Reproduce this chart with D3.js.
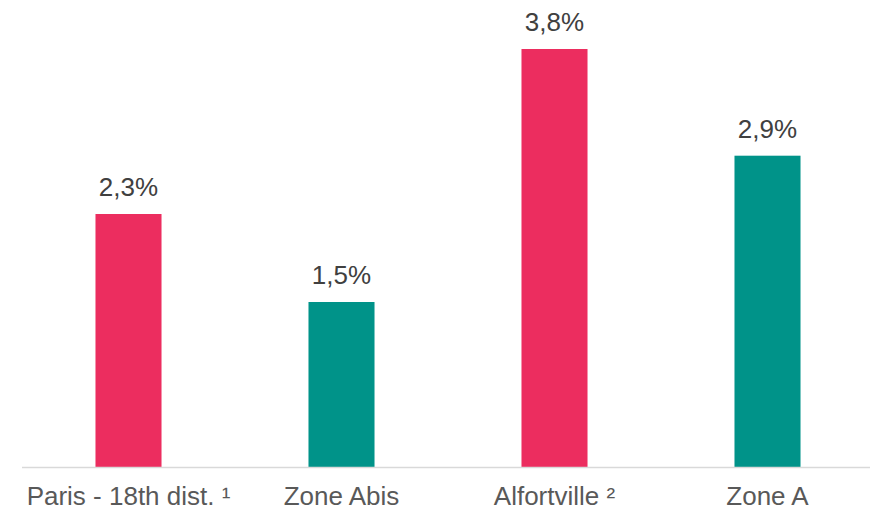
<!DOCTYPE html>
<html>
<head>
<meta charset="utf-8">
<script src="https://cdn.jsdelivr.net/npm/d3@7"></script>
<style>
  body { margin: 0; background: #fff; }
  svg { display: block; font-family: Arial, "Liberation Sans", sans-serif; }
  .value { fill: #404040; font-size: 26px; text-anchor: middle; }
  .cat { fill: #595959; font-size: 26px; text-anchor: middle; }
</style>
</head>
<body>
<svg width="870" height="511"></svg>
<script>
// chart data
var categories = ["Paris - 18th dist. \u00b9", "Zone Abis", "Alfortville \u00b2", "Zone A"];
var values = [2.3, 1.5, 3.8, 2.83];
var valueLabels = ["2,3%", "1,5%", "3,8%", "2,9%"];
var colors = ["#ec2d5f", "#009389", "#ec2d5f", "#009389"];

var svg = d3.select("svg"),
    width = +svg.attr("width"),
    height = +svg.attr("height");

var x = d3.scaleBand()
    .domain(categories)
    .range([22, 874])
    .paddingInner(0.69)
    .paddingOuter(0.345);

var y = d3.scaleLinear()
    .domain([0, 3.8])
    .range([467, 49]);

var data = categories.map(function(c, i) {
    return { cat: c, value: values[i], label: valueLabels[i], color: colors[i] };
});

// bars
svg.selectAll(".bar")
    .data(data)
    .enter()
    .append("rect")
      .attr("class", "bar")
      .attr("x", function(d) { return x(d.cat); })
      .attr("y", function(d) { return y(d.value); })
      .attr("width", x.bandwidth())
      .attr("height", function(d) { return y(0) - y(d.value); })
      .attr("fill", function(d) { return d.color; });

// value labels
svg.selectAll(".value")
    .data(data)
    .enter()
    .append("text")
      .attr("class", "value")
      .attr("x", function(d) { return x(d.cat) + x.bandwidth() / 2; })
      .attr("y", function(d) { return y(d.value) - 18; })
      .text(function(d) { return d.label; });

// baseline
svg.append("line")
    .attr("x1", 22)
    .attr("x2", 870)
    .attr("y1", y(0) + 0.5)
    .attr("y2", y(0) + 0.5)
    .attr("stroke", "#d9d9d9")
    .attr("stroke-width", 1.5);

// category labels
svg.selectAll(".cat")
    .data(categories)
    .enter()
    .append("text")
      .attr("class", "cat")
      .attr("x", function(d) { return x(d) + x.bandwidth() / 2; })
      .attr("y", 505)
      .text(function(d) { return d; });
</script>
</body>
</html>
